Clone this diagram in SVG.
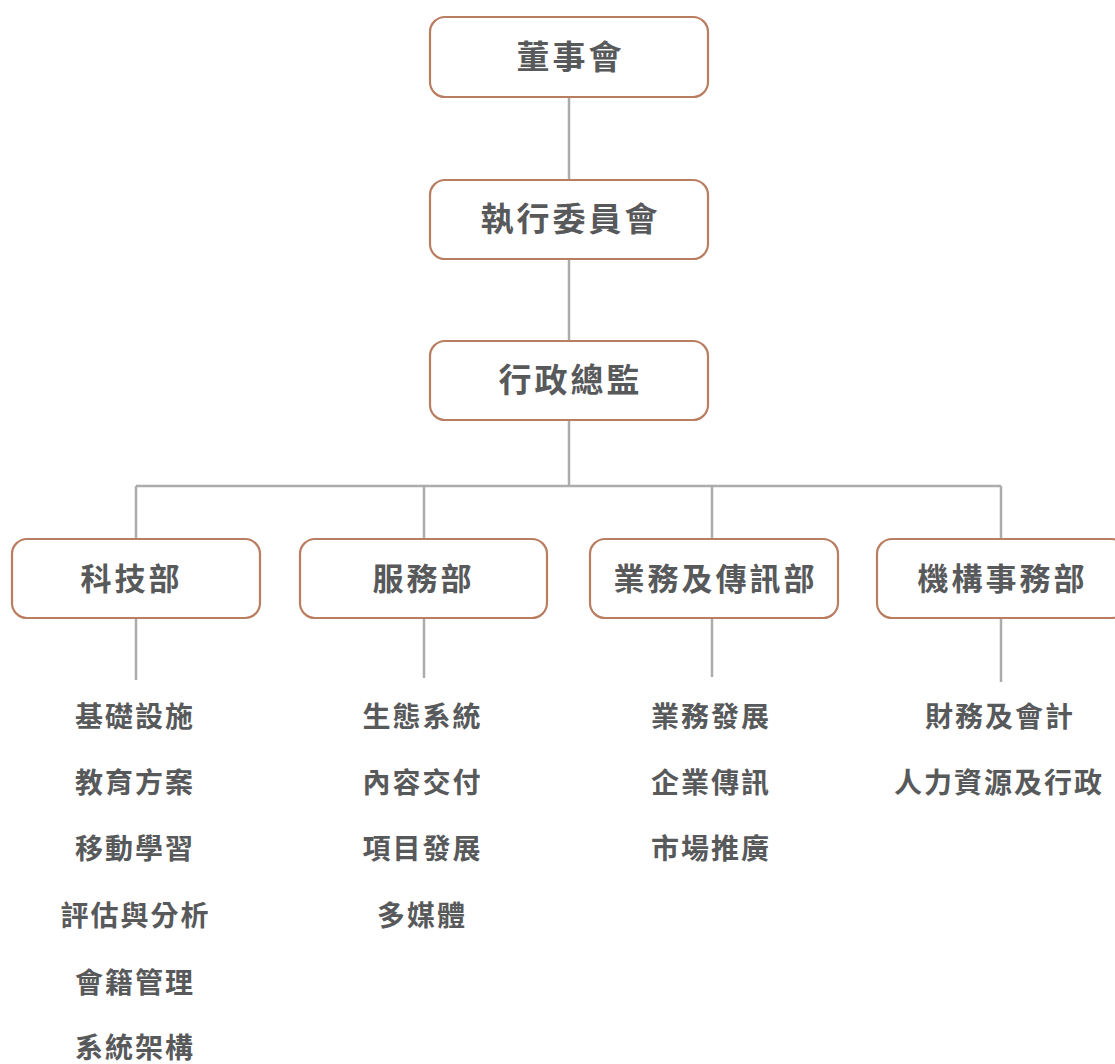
<svg xmlns="http://www.w3.org/2000/svg" width="1115" height="1064" viewBox="0 0 1115 1064">
<style>
.box{fill:#ffffff;stroke:#b97e62;stroke-width:2.2}
.ln{stroke:#abacae;stroke-width:2.5;fill:none}
text{font-family:"Noto Sans CJK TC","Noto Sans CJK SC",sans-serif;font-weight:700;fill:#58595b;text-anchor:middle;dominant-baseline:central}
.t1{font-size:33px;letter-spacing:3px}
.t2{font-size:31px;letter-spacing:3px}
.t3{font-size:28px;letter-spacing:2px}
</style>
<rect width="1115" height="1064" fill="#ffffff"/>
<g id="connectors">
<path class="ln" d="M569 97V180M569 259V341M569 420V486M136 486H1001M136 486V539M424 486V539M712 486V539M1001 486V539M136 618V680M424 618V678M712 618V677M1001 618V682"/>
</g>
<g id="board"><rect class="box" x="430" y="17" width="278" height="80" rx="15"/><text class="t1" x="570.5" y="55">董事會</text></g>
<g id="exec"><rect class="box" x="430" y="180" width="278" height="79" rx="15"/><text class="t1" x="570.5" y="217">執行委員會</text></g>
<g id="ceo"><rect class="box" x="430" y="341" width="278" height="79" rx="15"/><text class="t1" x="570.5" y="378">行政總監</text></g>
<g id="tech"><rect class="box" x="12" y="539" width="248" height="79" rx="15"/><text class="t2" x="131.5" y="576">科技部</text></g>
<g id="service"><rect class="box" x="300" y="539" width="247" height="79" rx="15"/><text class="t2" x="423.5" y="576">服務部</text></g>
<g id="business"><rect class="box" x="590" y="539" width="248" height="79" rx="15"/><text class="t2" x="715.5" y="576">業務及傳訊部</text></g>
<g id="org"><rect class="box" x="877" y="539" width="250" height="79" rx="15"/><text class="t2" x="1002.5" y="576">機構事務部</text></g>
<g id="tech-items">
<text class="t3" x="135" y="715">基礎設施</text>
<text class="t3" x="135" y="781">教育方案</text>
<text class="t3" x="135" y="847">移動學習</text>
<text class="t3" x="135.5" y="914">評估與分析</text>
<text class="t3" x="135" y="981">會籍管理</text>
<text class="t3" x="135" y="1046">系統架構</text>
</g>
<g id="service-items">
<text class="t3" x="422.5" y="715">生態系統</text>
<text class="t3" x="422.5" y="781">內容交付</text>
<text class="t3" x="422.5" y="847">項目發展</text>
<text class="t3" x="422" y="914">多媒體</text>
</g>
<g id="business-items">
<text class="t3" x="711" y="715">業務發展</text>
<text class="t3" x="711" y="781">企業傳訊</text>
<text class="t3" x="711" y="847">市場推廣</text>
</g>
<g id="org-items">
<text class="t3" x="1000" y="715">財務及會計</text>
<text class="t3" x="999" y="781">人力資源及行政</text>
</g>
</svg>
